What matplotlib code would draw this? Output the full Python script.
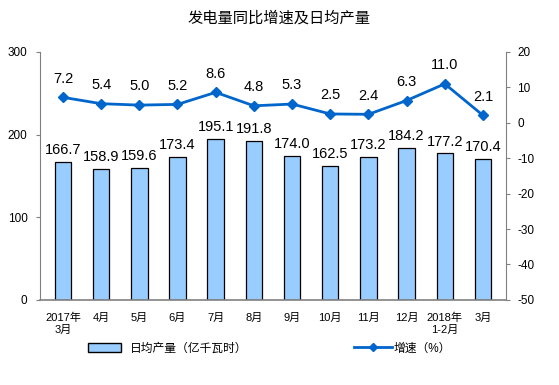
import matplotlib
matplotlib.use("Agg")
import matplotlib.pyplot as plt
from matplotlib.lines import Line2D
from matplotlib.patches import Patch
import numpy as np

plt.rcParams['font.family'] = ['Liberation Sans', 'Noto Sans CJK SC', 'DejaVu Sans']
plt.rcParams['axes.unicode_minus'] = False

months = ["2017年\n3月", "4月", "5月", "6月", "7月", "8月", "9月", "10月",
          "11月", "12月", "2018年\n1-2月", "3月"]
daily_output = [166.7, 158.9, 159.6, 173.4, 195.1, 191.8, 174.0, 162.5,
                173.2, 184.2, 177.2, 170.4]
growth = [7.2, 5.4, 5.0, 5.2, 8.6, 4.8, 5.3, 2.5, 2.4, 6.3, 11.0, 2.1]

bar_color = "#99CCFF"
line_color = "#0066CC"
axis_color = "#808080"

fig = plt.figure(figsize=(5.59, 3.85), dpi=100)
ax = fig.add_axes([0.0716, 0.221, 0.8334, 0.644])
x = np.arange(len(months))

ax.bar(x, daily_output, width=0.43, color=bar_color, edgecolor="black", linewidth=0.9)
for xi, v in zip(x, daily_output):
    ax.text(xi, v + 6, f"{v:.1f}", ha="center", va="bottom", fontsize=10.5)

ax.set_ylim(0, 300)
ax.set_yticks([0, 100, 200, 300])
ax.set_xlim(-0.6, len(months) - 0.4)
ax.set_xticks(x)
ax.set_xticklabels(months, fontsize=8)
ax.tick_params(axis="x", length=0, pad=9)
ax.tick_params(axis="y", labelsize=8.5, color=axis_color, length=3, pad=6)
for s in ["top", "right"]:
    ax.spines[s].set_visible(False)
ax.spines["left"].set_color(axis_color)
ax.spines["bottom"].set_color(axis_color)
ax.spines["bottom"].set_linewidth(1.2)

ax2 = ax.twinx()
ax2.plot(x, growth, color=line_color, linewidth=2, marker="D", markersize=5)
for xi, v in zip(x, growth):
    ax2.text(xi, v + 3.3, f"{v:.1f}", ha="center", va="bottom", fontsize=10.5)
ax2.set_ylim(-50, 20)
ax2.set_yticks(range(-50, 21, 10))
ax2.tick_params(axis="y", labelsize=8.5, color=axis_color, length=3, pad=5)
for s in ["top", "left", "bottom"]:
    ax2.spines[s].set_visible(False)
ax2.spines["right"].set_color(axis_color)

fig.text(0.5, 0.953, "发电量同比增速及日均产量", ha="center", va="center", fontsize=11)

handles = [Patch(facecolor=bar_color, edgecolor="black", label="日均产量（亿千瓦时）"),
           Line2D([0], [0], color=line_color, linewidth=2, marker="D", markersize=4,
                  label="增速（%）")]
fig.legend(handles=handles[:1], loc="center", bbox_to_anchor=(0.3, 0.095),
           frameon=False, fontsize=8.5, handlelength=2.8, handleheight=0.8)
fig.legend(handles=handles[1:], loc="center", bbox_to_anchor=(0.72, 0.095),
           frameon=False, fontsize=8.5, handlelength=3.2, handletextpad=0.1)

fig.savefig("out.png", dpi=100)
